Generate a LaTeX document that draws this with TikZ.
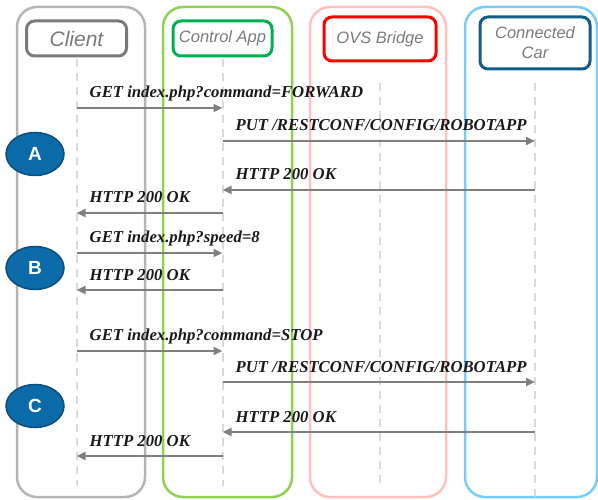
\documentclass[tikz,border=0pt]{standalone}
\usepackage{fontspec}
\setmainfont{Liberation Serif}
\setsansfont{Liberation Sans}
\usetikzlibrary{arrows.meta,positioning,shapes.geometric}
\definecolor{clientgray}{HTML}{B4B4B4}
\definecolor{clienthead}{HTML}{7A7A7A}
\definecolor{appgreen}{HTML}{92D050}
\definecolor{apphead}{HTML}{00B050}
\definecolor{ovspink}{HTML}{FFC0C0}
\definecolor{ovshead}{HTML}{FF0000}
\definecolor{carblue}{HTML}{75CDFD}
\definecolor{carhead}{HTML}{135C88}
\definecolor{badgefill}{HTML}{0B6AA8}
\definecolor{badgeline}{HTML}{0C4E7C}
\definecolor{msggray}{HTML}{7F7F7F}
\definecolor{lifegray}{HTML}{D9D9D9}
\begin{document}
\begin{tikzpicture}[x=1pt, y=-1pt,
  frame/.style={draw, line width=2.5pt, rounded corners=20pt, minimum width=128pt, minimum height=490pt},
  head/.style={draw, line width=3pt, rounded corners=8pt, align=center, text=clienthead, font=\sffamily\itshape\fontsize{16.5}{19}\selectfont},
  life/.style={draw=lifegray, line width=2pt, dash pattern=on 8pt off 6pt},
  badge/.style={ellipse, draw=badgeline, fill=badgefill, line width=1.5pt, minimum width=58pt, minimum height=43pt, text=white, font=\sffamily\bfseries\fontsize{19}{22}\selectfont},
  msg/.style={draw=msggray, line width=2.8pt, -{Triangle[length=9pt, width=8pt]}},
  lbl/.style={inner sep=0pt, font=\bfseries\itshape\fontsize{16.7}{19}\selectfont, text=black!90}]
\useasboundingbox (0,0) rectangle (598,500);
% outer frames
\node[frame, draw=clientgray] (clf) at (81,252) {};
\node[frame, draw=appgreen, minimum width=129pt] (caf) at (227.5,252) {};
\node[frame, draw=ovspink, minimum width=136pt] (ovsf) at (378,252) {};
\node[frame, draw=carblue, minimum width=132pt] (carf) at (531,252) {};
% headers
\node[head, draw=clienthead, minimum width=100pt, minimum height=35pt, font=\sffamily\itshape\fontsize{21}{24}\selectfont] (cl) at (76.5,38.5) {Client};
\node[head, draw=apphead, minimum width=99pt, minimum height=35pt] (ca) at (222.5,38.5) {Control App};
\node[head, draw=ovshead, minimum width=112pt, minimum height=44pt] (ovs) at (380,39) {OVS Bridge};
\node[head, draw=carhead, minimum width=110pt, minimum height=52pt, font=\sffamily\itshape\fontsize{16.5}{20}\selectfont] (car) at (535,43) {Connected\\Car};
% lifelines
\draw[life] ([yshift=-2pt]cl.south) -- (cl.south |- 0,486);
\draw[life] ([yshift=-2pt]ca.south) -- (ca.south |- 0,486);
\draw[life] (ovs.south |- 0,83) -- (ovs.south |- 0,486);
\draw[life] (car.south |- 0,83) -- (car.south |- 0,497);
% phases
\node[badge] (A) at (35,154) {A};
\node[badge] (B) at (35,268) {B};
\node[badge] (C) at (35,406) {C};
% messages
\foreach \y/\a/\b/\l/\t in {
  108/cl/ca/cl/{GET index.php?command=FORWARD},
  141/ca/car/ca/{PUT /RESTCONF/CONFIG/ROBOTAPP},
  190/car/ca/ca/{HTTP 200 OK},
  213/ca/cl/cl/{HTTP 200 OK},
  253/cl/ca/cl/{GET index.php?speed=8},
  290/ca/cl/cl/{HTTP 200 OK},
  351/cl/ca/cl/{GET index.php?command=STOP},
  382/ca/car/ca/{PUT /RESTCONF/CONFIG/ROBOTAPP},
  432/car/ca/ca/{HTTP 200 OK},
  456/ca/cl/cl/{HTTP 200 OK}}{
  \draw[msg] (\a |- 0,\y) -- (\b |- 0,\y);
  \path (\l |- 0,\y) node[lbl, anchor=base west, xshift=13pt, yshift=10pt] {\t};
}
\end{tikzpicture}
\end{document}
